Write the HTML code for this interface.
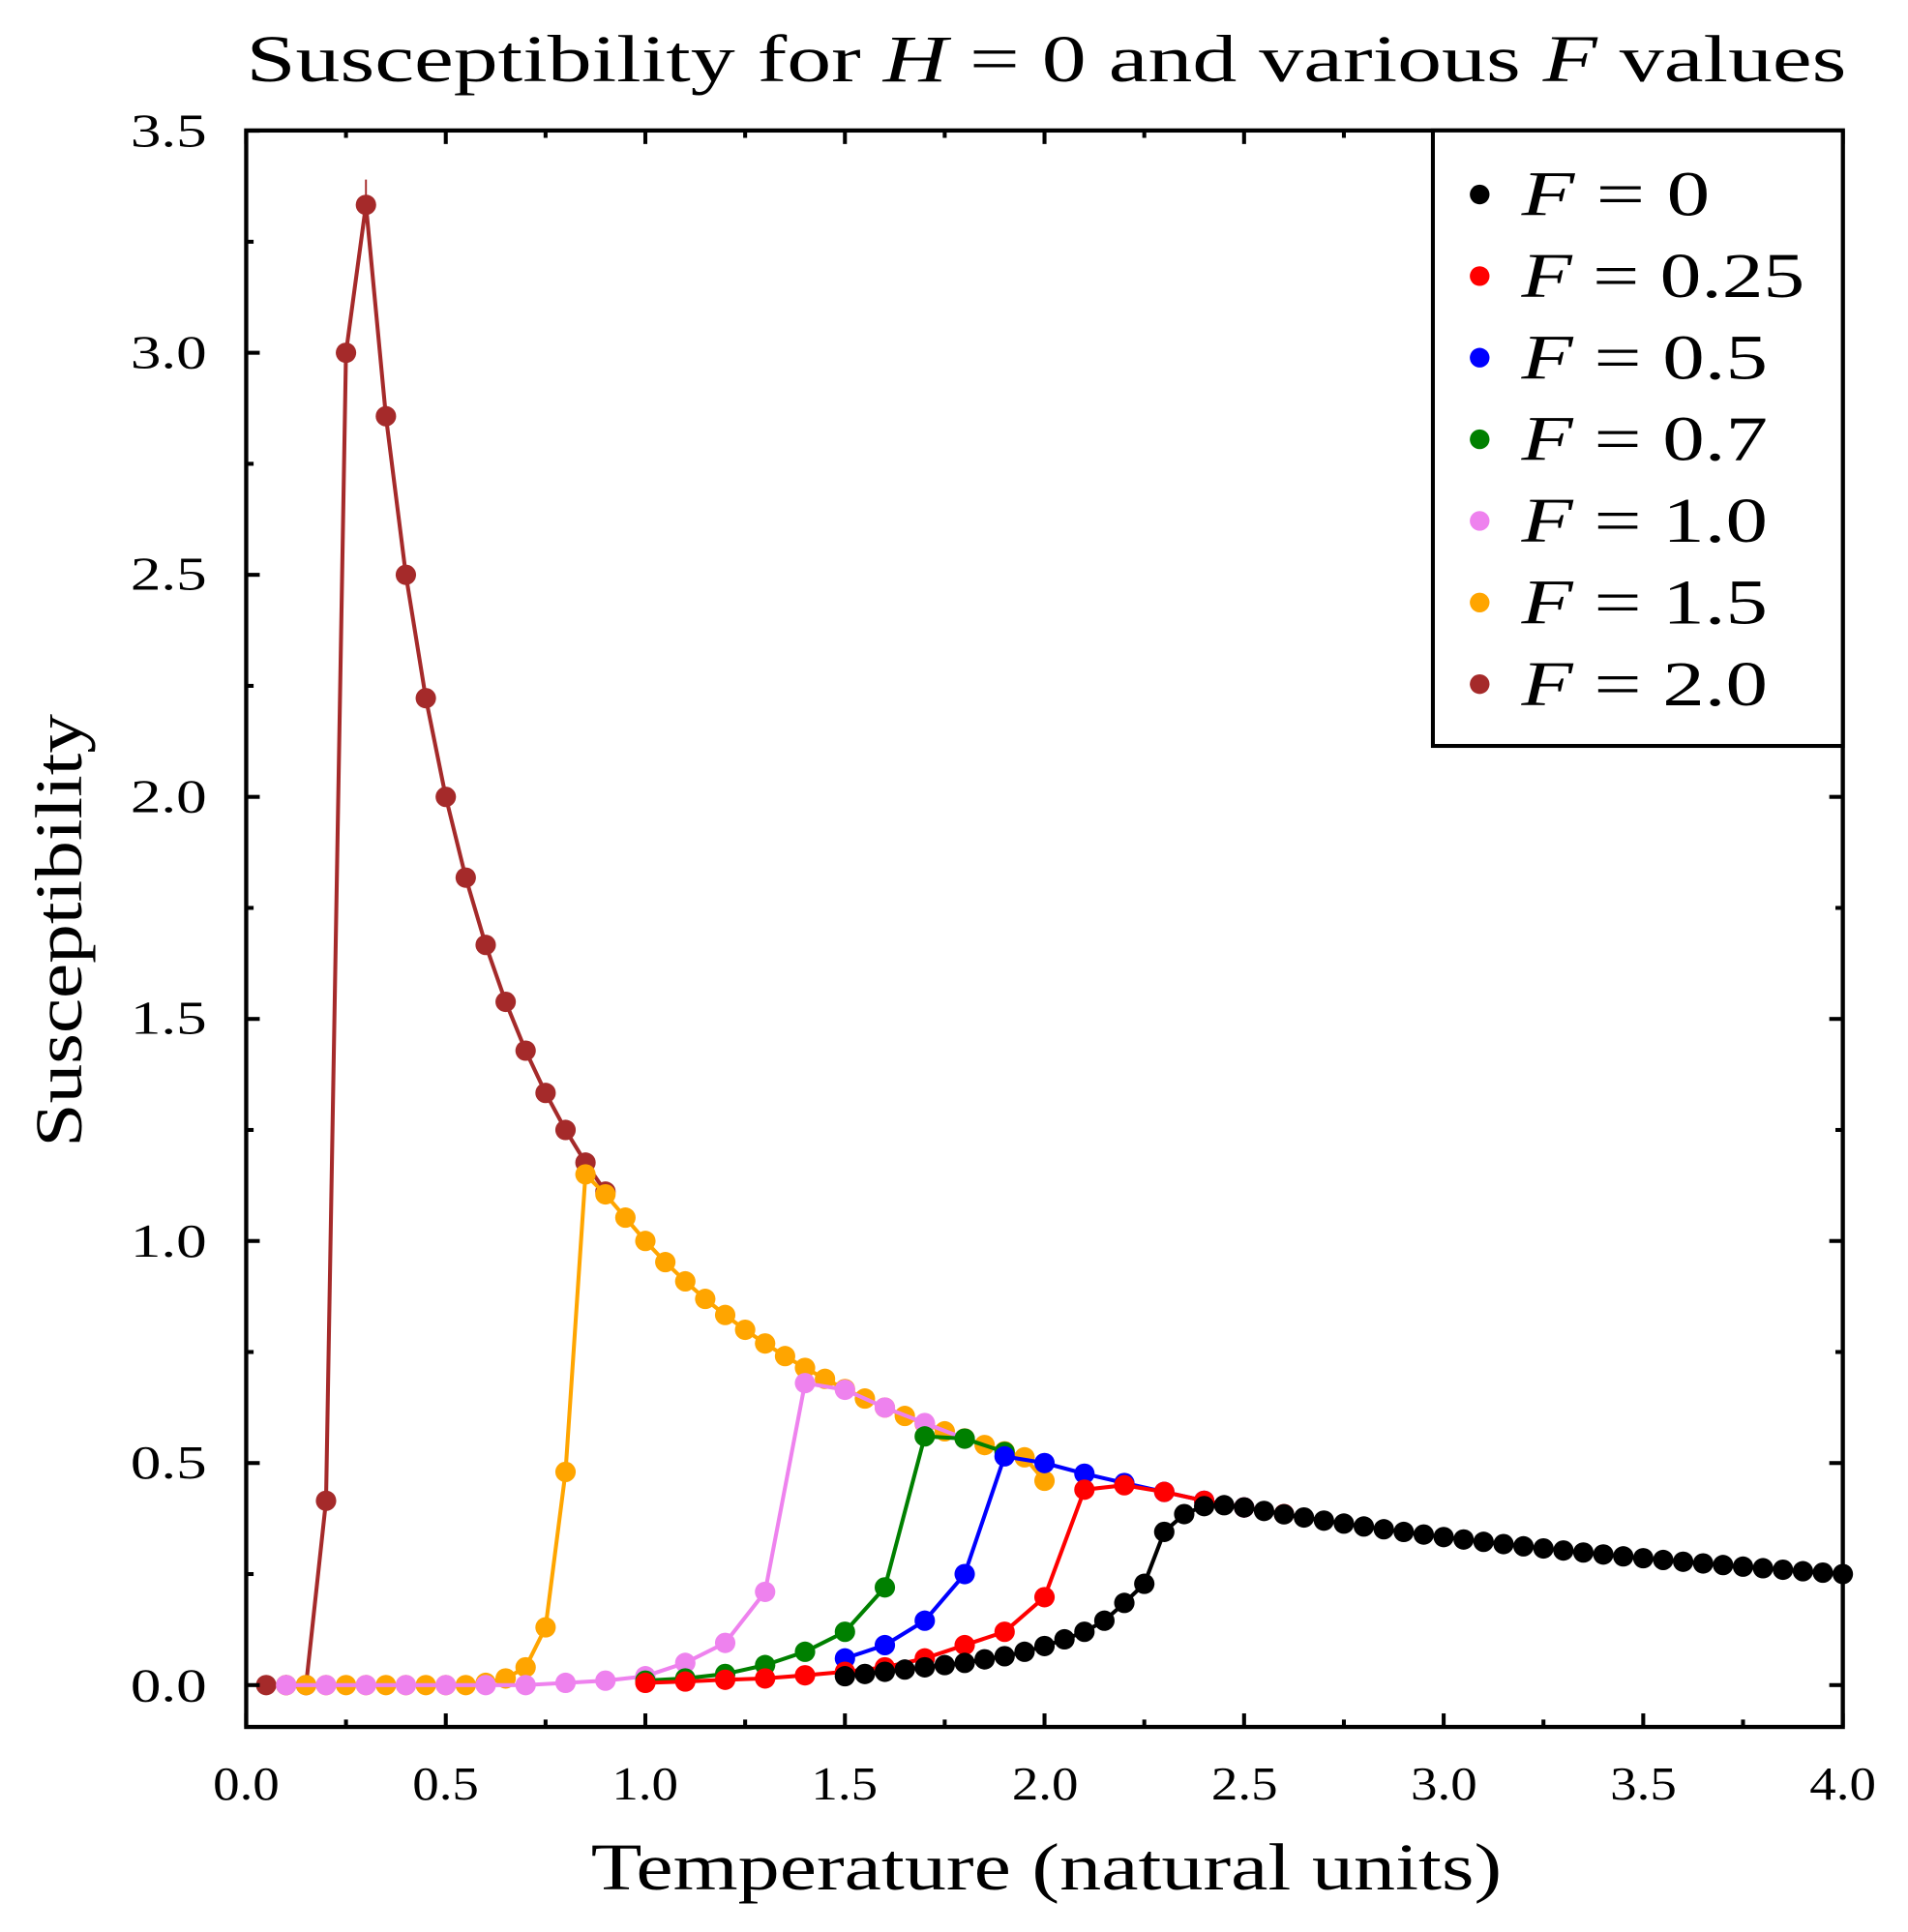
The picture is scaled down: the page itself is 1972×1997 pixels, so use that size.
<!DOCTYPE html>
<html><head><meta charset="utf-8"><style>
html,body{margin:0;padding:0;background:#fff;}
svg{display:block;}
text{font-family:"Liberation Serif",serif;fill:#000;}
</style></head><body>
<svg id="s" width="1972" height="1997" viewBox="0 0 1972 1997" xmlns="http://www.w3.org/2000/svg">
<g id="g" transform="scale(1.2723)">
<text x="200" y="66" font-size="54" textLength="1300" lengthAdjust="spacingAndGlyphs">Susceptibility for <tspan font-style="italic">H</tspan> = 0 and various <tspan font-style="italic">F</tspan> values</text>
<g id="series"></g>
<rect x="200" y="106" width="1297" height="1297" fill="none" stroke="#000" stroke-width="3.4"/>
<g id="ticks" stroke="#000" stroke-width="3.2"></g>
<g font-size="38" text-anchor="middle">
<text x="200" y="1462" textLength="54" lengthAdjust="spacingAndGlyphs">0.0</text><text x="362" y="1462" textLength="54" lengthAdjust="spacingAndGlyphs">0.5</text><text x="524" y="1462" textLength="54" lengthAdjust="spacingAndGlyphs">1.0</text><text x="686" y="1462" textLength="54" lengthAdjust="spacingAndGlyphs">1.5</text><text x="849" y="1462" textLength="54" lengthAdjust="spacingAndGlyphs">2.0</text><text x="1011" y="1462" textLength="54" lengthAdjust="spacingAndGlyphs">2.5</text><text x="1173" y="1462" textLength="54" lengthAdjust="spacingAndGlyphs">3.0</text><text x="1335" y="1462" textLength="54" lengthAdjust="spacingAndGlyphs">3.5</text><text x="1497" y="1462" textLength="54" lengthAdjust="spacingAndGlyphs">4.0</text>
</g>
<g font-size="38">
<text x="106" y="1382" textLength="62" lengthAdjust="spacingAndGlyphs">0.0</text><text x="106" y="1201" textLength="62" lengthAdjust="spacingAndGlyphs">0.5</text><text x="106" y="1021" textLength="62" lengthAdjust="spacingAndGlyphs">1.0</text><text x="106" y="840" textLength="62" lengthAdjust="spacingAndGlyphs">1.5</text><text x="106" y="660" textLength="62" lengthAdjust="spacingAndGlyphs">2.0</text><text x="106" y="479" textLength="62" lengthAdjust="spacingAndGlyphs">2.5</text><text x="106" y="299" textLength="62" lengthAdjust="spacingAndGlyphs">3.0</text><text x="106" y="119" textLength="62" lengthAdjust="spacingAndGlyphs">3.5</text>
</g>
<text x="480" y="1535" font-size="54" textLength="740" lengthAdjust="spacingAndGlyphs">Temperature (natural units)</text>
<text transform="translate(66,932) rotate(-90)" font-size="54" textLength="352" lengthAdjust="spacingAndGlyphs">Susceptibility</text>
<rect x="1164" y="106" width="333" height="500" fill="#fff" stroke="#000" stroke-width="3.2"/>
<g id="leg" font-size="52"></g>
</g>
</svg>
<script>
var NS="http://www.w3.org/2000/svg";
function X(t){return 200+t*324.25;} function Y(v){return 1369-v*360.8;}
function el(p,n,a){var e=document.createElementNS(NS,n);for(var k in a)e.setAttribute(k,a[k]);p.appendChild(e);return e;}
var tk=document.getElementById('ticks');
for(var i=0;i<=16;i++){var t=i*0.25,x=X(t),L=(i%2==0)?11:6;
 el(tk,'line',{x1:x,y1:1403,x2:x,y2:1403-L});el(tk,'line',{x1:x,y1:106,x2:x,y2:106+L});}
for(var i=0;i<=14;i++){var v=i*0.25,y=Y(v),L=(i%2==0)?11:6;
 el(tk,'line',{x1:200,y1:y,x2:200+L,y2:y});el(tk,'line',{x1:1497,y1:y,x2:1497-L,y2:y});}
function range(a,b,s){var r=[];for(var t=a;t<=b+1e-9;t+=s)r.push(Math.round(t*100)/100);return r;}
var S=[];
(function(){var ts=range(1.5,4.0,0.05);var low={1.5:0.02,1.55:0.025,1.6:0.03,1.65:0.035,1.7:0.04,1.75:0.045,1.8:0.05,1.85:0.058,1.9:0.065,1.95:0.075,2.0:0.088,2.05:0.103,2.1:0.12,2.15:0.145,2.2:0.185,2.25:0.228,2.3:0.345,2.35:0.385,2.4:0.403,2.45:0.405};
S.push({c:'#000',p:ts.map(function(t){return [t,low[t]!==undefined?low[t]:1/t];})});})();
S.push({c:'#ff0000',p:[[1.0,0.005],[1.1,0.008],[1.2,0.012],[1.3,0.015],[1.4,0.022],[1.5,0.03],[1.6,0.04],[1.7,0.06],[1.8,0.09],[1.9,0.12],[2.0,0.198],[2.1,0.44],[2.2,0.45],[2.3,0.435],[2.4,0.415],[2.5,0.4],[2.6,0.385]]});
S.push({c:'#0000ff',p:[[1.5,0.06],[1.6,0.09],[1.7,0.145],[1.8,0.25],[1.9,0.515],[2.0,0.5],[2.1,0.476],[2.2,0.455],[2.3,0.435],[2.4,0.415],[2.5,0.4]]});
S.push({c:'#008000',p:[[1.0,0.01],[1.1,0.015],[1.2,0.025],[1.3,0.045],[1.4,0.075],[1.5,0.12],[1.6,0.22],[1.7,0.56],[1.8,0.555],[1.9,0.525]]});
(function(){var p=[];range(0.1,0.7,0.1).forEach(function(t){p.push([t,0]);});
p=p.concat([[0.8,0.005],[0.9,0.01],[1.0,0.02],[1.1,0.05],[1.2,0.095],[1.3,0.21],[1.4,0.68],[1.5,0.665],[1.6,0.625],[1.7,0.59],[1.8,0.555]]);S.push({c:'#ee82ee',p:p});})();
(function(){var p=[];range(0.1,0.55,0.05).forEach(function(t){p.push([t,0]);});
p=p.concat([[0.6,0.005],[0.65,0.015],[0.7,0.04],[0.75,0.13],[0.8,0.48],[0.85,1.15],[0.9,1.105]]);
range(0.95,1.95,0.05).forEach(function(t){p.push([t,1/t]);});p.push([2.0,0.46]);S.push({c:'#ffa500',p:p});})();
(function(){var p=[[0.05,0],[0.1,0],[0.15,0],[0.2,0.415],[0.25,3.0],[0.3,3.333]];
range(0.35,0.9,0.05).forEach(function(t){p.push([t,1/t]);});S.push({c:'#a52a2a',p:p,top:true});})();
var g=document.getElementById('series');
var order=[6,5,4,3,2,1,0];
order.forEach(function(i){var s=S[i];var pts=s.p.map(function(q){return X(q[0])+','+Y(q[1]);}).join(' ');
 el(g,'polyline',{points:pts,fill:'none',stroke:s.c,'stroke-width':3.2,'stroke-linejoin':'round'});
 if(s.top)el(g,'line',{x1:X(0.3),y1:Y(3.333),x2:X(0.3),y2:Y(3.39),stroke:s.c,'stroke-width':1.5});
 s.p.forEach(function(q){el(g,'circle',{cx:X(q[0]),cy:Y(q[1]),r:8.3,fill:s.c});});});
var lg=document.getElementById('leg');
var labs=['0','0.25','0.5','0.7','1.0','1.5','2.0'];
var lens=[153,230,200,200,200,200,200];
for(var i=0;i<7;i++){var y=158+i*66.3;
 el(lg,'circle',{cx:1202,cy:y,r:8,fill:S[i].c});
 var t=el(lg,'text',{x:1236,y:y+17,textLength:lens[i],lengthAdjust:'spacingAndGlyphs'});
 var a=el(t,'tspan',{'font-style':'italic'});a.textContent='F';
 var b=el(t,'tspan',{});b.textContent=' = '+labs[i];}
</script>
</body></html>
